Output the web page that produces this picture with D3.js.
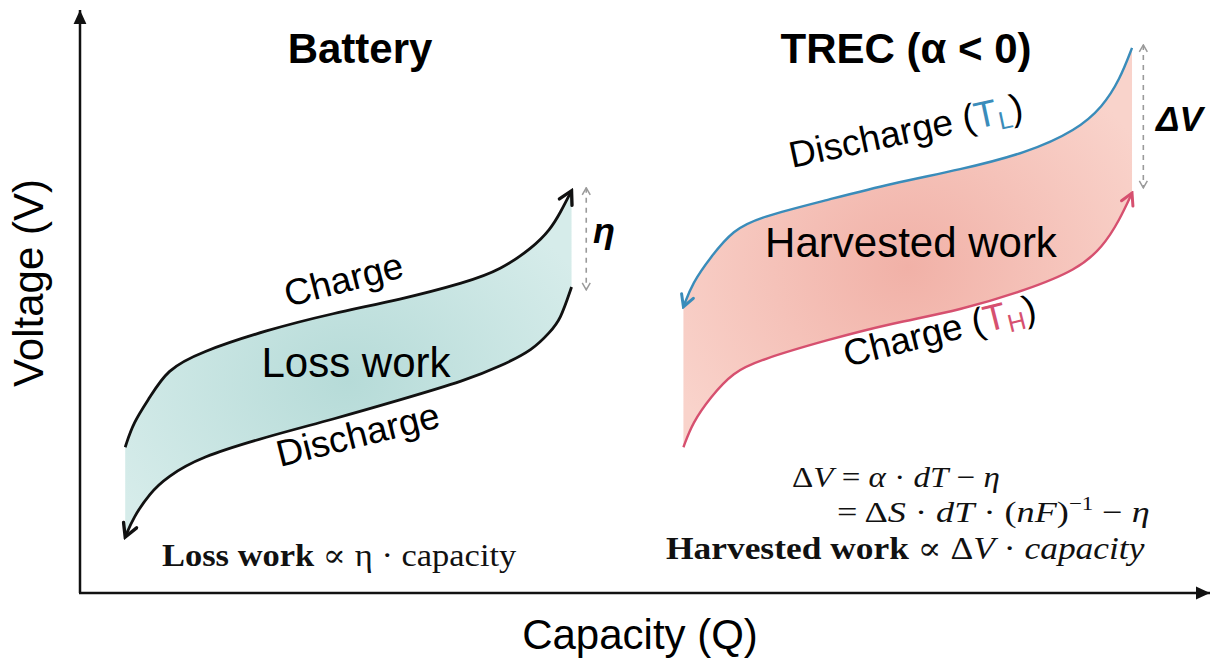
<!DOCTYPE html>
<html lang="en">
<head>
<meta charset="utf-8">
<title>Battery vs TREC</title>
<script src="https://d3js.org/d3.v7.min.js"></script>
<style>
  body { margin: 0; background: #fff; }
  svg { display: block; font-family: "Liberation Sans", Arial, sans-serif; }
  .serif { font-family: "Liberation Serif", "DejaVu Serif", serif; }
</style>
</head>
<body>
<svg id="chart"></svg>
<script>
var w = 1215, h = 660;

// capacity (x) and voltage (y), arbitrary units 0..100
var batteryCapacity  = [4.0, 4.7, 6.2, 7.7, 10.6, 16.5, 22.4, 28.3, 34.2, 37.2, 40.1, 41.6, 42.5, 43.5];
var batteryCharge    = [25.0, 29.2, 33.6, 38.3, 41.3, 45.1, 48.0, 50.3, 53.3, 55.4, 59.3, 62.3, 65.2, 69.0];
var batteryDischarge = [9.6, 12.9, 17.2, 19.9, 23.3, 26.8, 29.8, 33.1, 36.5, 38.9, 41.7, 44.8, 46.8, 52.5];

var trecCapacity  = [53.4, 54.2, 55.8, 57.8, 60.2, 66.1, 71.9, 77.9, 83.8, 88.2, 90.5, 92.0, 93.1];
var trecDischarge = [49.1, 53.2, 57.6, 62.3, 64.5, 67.4, 70.3, 72.6, 75.5, 79.4, 83.4, 88.0, 93.5];
var trecCharge    = [25.0, 29.2, 33.6, 37.9, 40.0, 43.4, 46.3, 48.5, 52.0, 55.4, 59.3, 64.0, 68.6];

// gap markers: [capacity, top voltage, bottom voltage]
var etaGap = [44.8, 69.5, 52.0];
var deltaVGap = [94.1, 94.0, 69.5];

var svg = d3.select('#chart').attr('width', w).attr('height', h);

var x = d3.scaleLinear().domain([0, 100]).range([80, 1210]);
var y = d3.scaleLinear().domain([0, 100]).range([593, 10]);

var line = d3.line()
  .x(function(d) { return x(d[0]); })
  .y(function(d) { return y(d[1]); })
  .curve(d3.curveBasis);

function pts(xs, ys) { return xs.map(function(v, i) { return [v, ys[i]]; }); }

var defs = svg.append('defs');

function chevron(id, color, size) {
  defs.append('marker')
    .attr('id', id)
    .attr('viewBox', '-12 -7 14 14')
    .attr('refX', 0).attr('refY', 0)
    .attr('markerUnits', 'userSpaceOnUse')
    .attr('markerWidth', size).attr('markerHeight', size)
    .attr('orient', 'auto-start-reverse')
    .append('path')
    .attr('d', 'M-10,-5.5L0,0L-10,5.5')
    .attr('fill', 'none')
    .attr('stroke', color)
    .attr('stroke-width', 2.6)
    .attr('stroke-linecap', 'round');
}
chevron('arr-black', '#111', 18);
chevron('arr-blue', '#3a8cba', 16);
chevron('arr-red', '#d6506f', 16);

defs.append('marker')
  .attr('id', 'tri')
  .attr('viewBox', '-12 -6 12 12')
  .attr('refX', 0).attr('refY', 0)
  .attr('markerUnits', 'userSpaceOnUse')
  .attr('markerWidth', 14).attr('markerHeight', 14)
  .attr('orient', 'auto')
  .append('path').attr('d', 'M-12,-5.5L0,0L-12,5.5Z').attr('fill', '#111');

defs.append('marker')
  .attr('id', 'gray')
  .attr('viewBox', '-8 -5 9 10')
  .attr('refX', 0).attr('refY', 0)
  .attr('markerUnits', 'userSpaceOnUse')
  .attr('markerWidth', 9).attr('markerHeight', 10)
  .attr('orient', 'auto-start-reverse')
  .append('path').attr('d', 'M-7,-4L0,0L-7,4').attr('fill', 'none')
  .attr('stroke', '#9a9a9a').attr('stroke-width', 1.5);

function radial(id, inner, outer) {
  var g = defs.append('radialGradient').attr('id', id)
    .attr('cx', '50%').attr('cy', '55%').attr('r', '60%');
  g.append('stop').attr('offset', '0%').attr('stop-color', inner);
  g.append('stop').attr('offset', '100%').attr('stop-color', outer);
}
radial('teal', '#b6dbd8', '#d6ecea');
radial('pink', '#f1b1a7', '#f9d3cb');

function band(upper, lower, fill) {
  var d = line(upper) + line(lower.slice().reverse()).replace('M', 'L') + 'Z';
  svg.append('path').attr('d', d).attr('fill', 'url(#' + fill + ')');
}

var bUp = pts(batteryCapacity, batteryCharge);
var bLo = pts(batteryCapacity, batteryDischarge);
var tUp = pts(trecCapacity, trecDischarge);
var tLo = pts(trecCapacity, trecCharge);

band(bUp, bLo, 'teal');
band(tUp, tLo, 'pink');

// axes
svg.append('line')
  .attr('x1', x(0)).attr('y1', y(0)).attr('x2', x(0)).attr('y2', y(100))
  .attr('stroke', '#111').attr('stroke-width', 2.5).attr('marker-end', 'url(#tri)');
svg.append('line')
  .attr('x1', x(0) - 1).attr('y1', y(0)).attr('x2', x(100)).attr('y2', y(0))
  .attr('stroke', '#111').attr('stroke-width', 2.5).attr('marker-end', 'url(#tri)');

// curves
svg.append('path').attr('d', line(bUp)).attr('fill', 'none')
  .attr('stroke', '#111').attr('stroke-width', 2.8).attr('marker-end', 'url(#arr-black)');
svg.append('path').attr('d', line(bLo.slice().reverse())).attr('fill', 'none')
  .attr('stroke', '#111').attr('stroke-width', 2.8).attr('marker-end', 'url(#arr-black)');
svg.append('path').attr('d', line(tUp.slice().reverse())).attr('fill', 'none')
  .attr('stroke', '#3a8cba').attr('stroke-width', 2.4).attr('marker-end', 'url(#arr-blue)');
svg.append('path').attr('d', line(tLo)).attr('fill', 'none')
  .attr('stroke', '#d6506f').attr('stroke-width', 2.4).attr('marker-end', 'url(#arr-red)');

// dashed gap arrows
[etaGap, deltaVGap].forEach(function(g) {
  svg.append('line')
    .attr('x1', x(g[0])).attr('y1', y(g[1])).attr('x2', x(g[0])).attr('y2', y(g[2]))
    .attr('stroke', '#9a9a9a').attr('stroke-width', 1.6).attr('stroke-dasharray', '5,5')
    .attr('marker-start', 'url(#gray)').attr('marker-end', 'url(#gray)');
});

// titles
svg.append('text').attr('x', 360).attr('y', 63).attr('text-anchor', 'middle')
  .attr('font-size', 42).attr('font-weight', 'bold').text('Battery');
svg.append('text').attr('x', 906).attr('y', 63).attr('text-anchor', 'middle')
  .attr('font-size', 42).attr('font-weight', 'bold').text('TREC (α < 0)');

svg.append('text').attr('x', 593).attr('y', 243)
  .attr('font-size', 36).attr('font-weight', 'bold').attr('font-style', 'italic').text('η');
svg.append('text').attr('x', 1156).attr('y', 131)
  .attr('font-size', 35).attr('font-weight', 'bold').attr('font-style', 'italic').text('ΔV');

// curve labels
function rotLabel(x0, y0, ang, size) {
  return svg.append('text').attr('font-size', size)
    .attr('transform', 'translate(' + x0 + ',' + y0 + ') rotate(' + ang + ')');
}
rotLabel(288, 307, -14.5, 37).text('Charge');
rotLabel(280, 467, -14, 37).text('Discharge');

var tl = rotLabel(792, 168, -12, 37);
tl.append('tspan').text('Discharge (');
tl.append('tspan').attr('fill', '#3a8cba').text('T');
tl.append('tspan').attr('fill', '#3a8cba').attr('font-size', 25).attr('dy', 6).text('L');
tl.append('tspan').attr('dy', -6).text(')');

var th = rotLabel(847, 367, -14, 37);
th.append('tspan').text('Charge (');
th.append('tspan').attr('fill', '#d6506f').text('T');
th.append('tspan').attr('fill', '#d6506f').attr('font-size', 25).attr('dy', 6).text('H');
th.append('tspan').attr('dy', -6).text(')');

svg.append('text').attr('x', 356).attr('y', 377).attr('text-anchor', 'middle')
  .attr('font-size', 42).text('Loss work');
svg.append('text').attr('x', 911).attr('y', 257).attr('text-anchor', 'middle')
  .attr('font-size', 42).text('Harvested work');

// axis labels
svg.append('text').attr('text-anchor', 'middle').attr('font-size', 42)
  .attr('transform', 'translate(43,283) rotate(-90)').text('Voltage (V)');
svg.append('text').attr('x', 640).attr('y', 649).attr('text-anchor', 'middle')
  .attr('font-size', 42).text('Capacity (Q)');

// formulas
function fit(t, x0, width) {
  var bw = t.node().getBBox().width;
  t.attr('transform', 'translate(' + x0 + ',0) scale(' + (width / bw) + ',1) translate(' + (-x0) + ',0)');
}
var fg = svg.append('g').attr('class', 'serif').attr('fill', '#111');

var f0 = fg.append('text').attr('x', 162).attr('y', 566).attr('font-size', 31);
f0.append('tspan').attr('font-weight', 'bold').text('Loss work');
f0.append('tspan').text(' ∝ η · capacity');
fit(f0, 162, 355);

var f1 = fg.append('text').attr('x', 792).attr('y', 487).attr('font-size', 30);
f1.append('tspan').text('Δ');
f1.append('tspan').attr('font-style', 'italic').text('V');
f1.append('tspan').text(' =  ');
f1.append('tspan').attr('font-style', 'italic').text('α');
f1.append('tspan').text(' · ');
f1.append('tspan').attr('font-style', 'italic').text('dT');
f1.append('tspan').text(' − ');
f1.append('tspan').attr('font-style', 'italic').text('η');
fit(f1, 792, 208);

var f2 = fg.append('text').attr('x', 837).attr('y', 522).attr('font-size', 30);
f2.append('tspan').text('= Δ');
f2.append('tspan').attr('font-style', 'italic').text('S');
f2.append('tspan').text(' · ');
f2.append('tspan').attr('font-style', 'italic').text('dT');
f2.append('tspan').text(' · (');
f2.append('tspan').attr('font-style', 'italic').text('nF');
f2.append('tspan').text(')');
f2.append('tspan').attr('font-size', 19).attr('dy', -12).text('−1');
f2.append('tspan').attr('dy', 12).text(' − ');
f2.append('tspan').attr('font-style', 'italic').text('η');
fit(f2, 837, 313);

var f3 = fg.append('text').attr('x', 666).attr('y', 559).attr('font-size', 31);
f3.append('tspan').attr('font-weight', 'bold').text('Harvested work');
f3.append('tspan').text(' ∝ Δ');
f3.append('tspan').attr('font-style', 'italic').text('V');
f3.append('tspan').text(' · ');
f3.append('tspan').attr('font-style', 'italic').text('capacity');
fit(f3, 666, 479);
</script>
</body>
</html>
